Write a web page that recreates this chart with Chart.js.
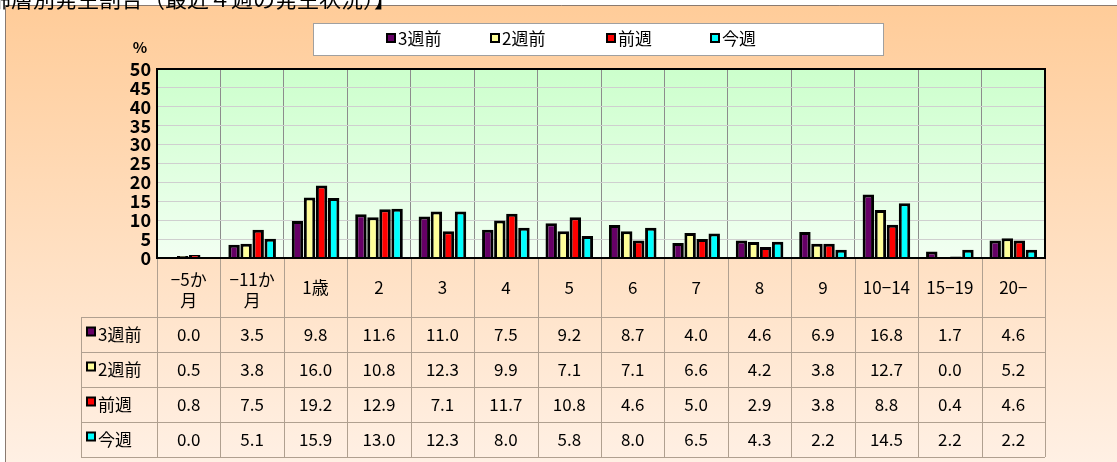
<!DOCTYPE html>
<html>
<head>
<meta charset="utf-8">
<script src="https://cdn.jsdelivr.net/npm/chart.js@4"></script>
<style>
  html, body { margin: 0; padding: 0; background: #fff; }
  #wrap { width: 1117px; height: 462px; }
</style>
</head>
<body>
<div id="wrap"><canvas id="ageChart" width="1117" height="462"></canvas></div>
<script>
const title = '【年齢層別発生割合（最近４週の発生状況）】';
const categories = [['−5か', '月'], ['−11か', '月'], '1歳', '2', '3', '4', '5', '6', '7', '8', '9', '10−14', '15−19', '20−'];
const seriesNames = ['3週前', '2週前', '前週', '今週'];
const week3 = [0.0, 3.5, 9.8, 11.6, 11.0, 7.5, 9.2, 8.7, 4.0, 4.6, 6.9, 16.8, 1.7, 4.6];
const week2 = [0.5, 3.8, 16.0, 10.8, 12.3, 9.9, 7.1, 7.1, 6.6, 4.2, 3.8, 12.7, 0.0, 5.2];
const week1 = [0.8, 7.5, 19.2, 12.9, 7.1, 11.7, 10.8, 4.6, 5.0, 2.9, 3.8, 8.8, 0.4, 4.6];
const week0 = [0.0, 5.1, 15.9, 13.0, 12.3, 8.0, 5.8, 8.0, 6.5, 4.3, 2.2, 14.5, 2.2, 2.2];
const yTicks = [0, 5, 10, 15, 20, 25, 30, 35, 40, 45, 50];

const colors = ['#660066', '#ffff99', '#ff0000', '#00ffff'];
const allSeries = [week3, week2, week1, week0];
const FONT = '"Noto Sans CJK JP", "Noto Sans", sans-serif';

const decor = {
  id: 'decor',
  beforeDraw(chart) {
    const c = chart.ctx;
    const a = chart.chartArea;
    c.save();
    c.fillStyle = '#fff';
    c.fillRect(0, 0, chart.width, chart.height);
    // outer peach panel
    let g = c.createLinearGradient(0, 5, 0, chart.height);
    g.addColorStop(0, '#ffcc99');
    g.addColorStop(1, '#fff0e4');
    c.fillStyle = g;
    c.fillRect(5, 5, chart.width - 5, chart.height - 5);
    c.strokeStyle = '#8a7a70';
    c.lineWidth = 1;
    c.beginPath();
    c.moveTo(5.5, chart.height);
    c.lineTo(5.5, 5.5);
    c.lineTo(chart.width, 5.5);
    c.stroke();
    // title (cut at top)
    c.fillStyle = '#000';
    c.font = '22px ' + FONT;
    c.textAlign = 'right';
    c.textBaseline = 'alphabetic';
    c.fillText(title, 396, 7);
    // plot background
    g = c.createLinearGradient(0, a.top, 0, a.bottom);
    g.addColorStop(0, '#ccffcc');
    g.addColorStop(1, '#f2fff2');
    c.fillStyle = g;
    c.fillRect(a.left, a.top, a.right - a.left, a.bottom - a.top);
    // % label
    c.fillStyle = '#000';
    c.font = 'bold 15px ' + FONT;
    c.textAlign = 'center';
    c.textBaseline = 'middle';
    c.fillText('%', 140, 47);
    // legend
    c.fillStyle = '#fff';
    c.fillRect(313, 23, 570, 32);
    c.strokeStyle = '#a0a0a0';
    c.strokeRect(313.5, 23.5, 570, 32);
    const lx = [386, 490, 606, 710];
    c.font = '17px ' + FONT;
    c.textAlign = 'left';
    seriesNames.forEach((n, i) => {
      c.fillStyle = '#000';
      c.fillRect(lx[i], 33, 10, 10);
      c.fillStyle = colors[i];
      c.fillRect(lx[i] + 2, 35, 6, 6);
      c.fillStyle = '#000';
      c.fillText(n, lx[i] + 12, 39);
    });
    c.restore();
  },
  afterDraw(chart) {
    const c = chart.ctx;
    const a = chart.chartArea;
    const x = chart.scales.x;
    const step = (a.right - a.left) / categories.length;
    const rowTop = 317, rowH = 35, tableBottom = rowTop + rowH * 4;
    c.save();
    // table lines
    c.strokeStyle = '#b0a090';
    c.lineWidth = 1;
    c.beginPath();
    for (let i = 0; i <= categories.length; i++) {
      const px = Math.round(a.left + i * step) + 0.5;
      c.moveTo(px, a.bottom);
      c.lineTo(px, tableBottom);
    }
    for (let r = 0; r <= 4; r++) {
      const py = rowTop + r * rowH + 0.5;
      c.moveTo(81, py);
      c.lineTo(a.right, py);
    }
    c.moveTo(81.5, rowTop);
    c.lineTo(81.5, tableBottom);
    c.stroke();
    // category labels
    c.fillStyle = '#000';
    c.font = '17px ' + FONT;
    c.textAlign = 'center';
    c.textBaseline = 'middle';
    categories.forEach((lab, i) => {
      const cx = x.getPixelForValue(i);
      if (Array.isArray(lab)) {
        c.fillText(lab[0], cx, 280);
        c.fillText(lab[1], cx, 301);
      } else {
        c.fillText(lab, cx, 288);
      }
    });
    // rows
    allSeries.forEach((vals, r) => {
      const cy = rowTop + r * rowH + rowH / 2;
      c.fillStyle = '#000';
      c.fillRect(86, cy - 8, 10, 10);
      c.fillStyle = colors[r];
      c.fillRect(88, cy - 6, 6, 6);
      c.fillStyle = '#000';
      c.textAlign = 'left';
      c.fillText(seriesNames[r], 98, cy);
      c.textAlign = 'center';
      vals.forEach((v, i) => c.fillText(v.toFixed(1), x.getPixelForValue(i), cy));
    });
    // plot border
    c.strokeStyle = '#000';
    c.lineWidth = 2;
    c.strokeRect(a.left, a.top, a.right - a.left, a.bottom - a.top);
    c.restore();
  }
};

new Chart(document.getElementById('ageChart'), {
  type: 'bar',
  data: {
    labels: categories,
    datasets: seriesNames.map((n, i) => ({
      label: n,
      data: allSeries[i],
      backgroundColor: colors[i],
      borderColor: '#000',
      borderWidth: 3,
      categoryPercentage: 0.76,
      barPercentage: 0.95
    }))
  },
  options: {
    responsive: false,
    animation: false,
    layout: { padding: { left: 0, right: 72, top: 69, bottom: 204 } },
    plugins: { legend: { display: false }, tooltip: { enabled: false } },
    scales: {
      x: {
        ticks: { display: false },
        grid: { color: '#8c8c8c', drawTicks: false, offset: true },
        border: { display: false },
        afterFit(s) { s.height = 0; }
      },
      y: {
        min: 0,
        max: 50,
        afterBuildTicks(s) { s.ticks = yTicks.map(v => ({ value: v })); },
        ticks: { color: '#000', autoSkip: false, font: { family: FONT, size: 18, weight: 'bold', lineHeight: 1 }, padding: 6 },
        grid: { color: '#cfcfcf', drawTicks: false },
        border: { display: false },
        afterFit(s) { s.width = 157; }
      }
    }
  },
  plugins: [decor]
});
</script>
</body>
</html>
